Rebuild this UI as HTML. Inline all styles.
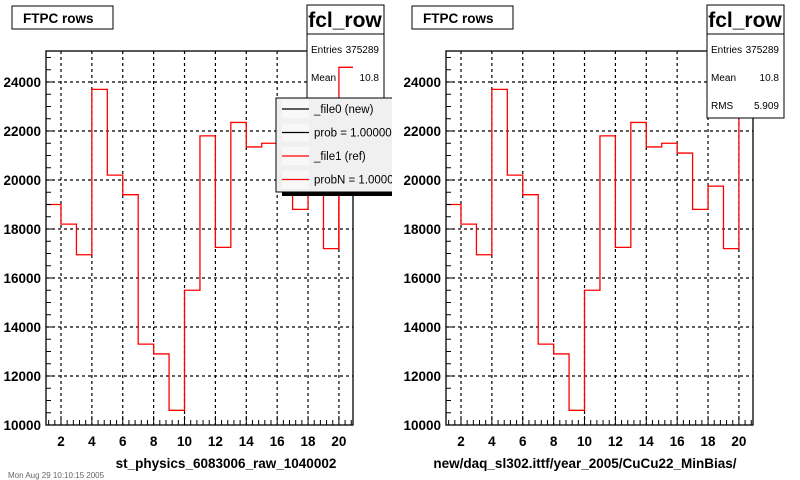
<!DOCTYPE html>
<html><head><meta charset="utf-8">
<style>
body{margin:0;background:#fff;}
svg{display:block;font-family:"Liberation Sans",sans-serif;}
</style></head>
<body>
<svg id="c" width="800" height="480" viewBox="0 0 800 480"></svg>
<script>
const bins = [1,2,3,4,5,6,7,8,9,10,11,12,13,14,15,16,17,18,19,20];
const counts = [19000,18200,16950,23700,20200,19400,13300,12900,10600,15500,21800,17250,22350,21350,21500,21100,18800,19750,17200,24600];
const yTicks = [10000,12000,14000,16000,18000,20000,22000,24000];
const xTicks = [2,4,6,8,10,12,14,16,18,20];
const xTitles = ["st_physics_6083006_raw_1040002","new/daq_sl302.ittf/year_2005/CuCu22_MinBias/"];

const NS="http://www.w3.org/2000/svg";
const svg=document.getElementById('c');
function mk(tag,at,parent){const e=document.createElementNS(NS,tag);for(const k in at)e.setAttribute(k,at[k]);(parent||svg).appendChild(e);return e;}
const L=46,R=353,T=51,B=425;
function X(v){return 61+(v-2)*15.44;}
function Y(v){return 425-(v-10000)*343/14000;}

const defs=mk('defs',{});
const cp=mk('clipPath',{id:'lgclip'},defs);
mk('rect',{x:0,y:0,width:392,height:480},cp);

[0,400].forEach((ox,pi)=>{
  const g=mk('g',{transform:`translate(${ox},0)`});
  
  
  xTicks.forEach(v=>{const l=mk('line',{x1:X(v),x2:X(v),y1:T,y2:B,stroke:'#000','stroke-dasharray':'3,3','stroke-width':1.2},g);
    });
  yTicks.forEach(v=>{if(v===10000)return;const l=mk('line',{x1:L,x2:R,y1:Y(v),y2:Y(v),stroke:'#000','stroke-dasharray':'3,3','stroke-width':1.2},g);
    });
  let d='';
  bins.forEach((b,i)=>{const x0=Math.max(X(b),L),x1=Math.min(X(b+1),R),y=Y(counts[i]);
    d+=(i===0?`M${x0},${y}`:`L${x0},${y}`)+`L${x1},${y}`;});
  const h=mk('path',{d:d,fill:'none',stroke:'#f00','stroke-width':1.3},g);
  
  const fr=mk('rect',{x:L,y:T,width:R-L,height:B-T,fill:'none',stroke:'#000','stroke-width':1.3},g);
  
  for(let v=10000;v<=25000;v+=500){const major=v%2000===0;
    mk('line',{x1:L,x2:L+(major?9:5),y1:Y(v),y2:Y(v),stroke:'#000'},g);}
  yTicks.forEach(v=>{const t=mk('text',{x:L-5,y:Y(v)+5,'text-anchor':'end','font-size':13.5,'font-weight':'bold'},g);t.textContent=v;
    });
  for(let v=1.2;v<=21;v+=0.4){const major=Math.abs(v/2-Math.round(v/2))<0.01;
    if(X(v)>R)break;mk('line',{x1:X(v),x2:X(v),y1:B,y2:B-(major?9:5),stroke:'#000'},g);}
  xTicks.forEach(v=>{const t=mk('text',{x:X(v),y:446,'text-anchor':'middle','font-size':13.5,'font-weight':'bold'},g);t.textContent=v;
    });
  const xt=mk('text',{x:pi===0?226:185,y:468,'text-anchor':'middle','font-size':13.5,'font-weight':'bold'},g);xt.textContent=xTitles[pi];
  
  mk('rect',{x:12,y:6,width:101,height:23,fill:'#fff',stroke:'#000'},g);
  const tt=mk('text',{x:23,y:23,'font-size':13.5,'font-weight':'bold'},g);tt.textContent='FTPC rows';
  
  const sb=mk('g',{},g);
  mk('rect',{x:307,y:5,width:77,height:113,fill:'#fff',stroke:'#000'},sb);
  mk('line',{x1:307,x2:384,y1:34,y2:34,stroke:'#000'},sb);
  let s=mk('text',{x:345,y:27,'text-anchor':'middle','font-size':21,'font-weight':'bold'},sb);s.textContent='fcl_row';
  s=mk('text',{x:311,y:53,'font-size':10},sb);s.textContent='Entries';
  s=mk('text',{x:379,y:53,'font-size':10,'text-anchor':'end'},sb);s.textContent='375289';
  s=mk('text',{x:311,y:81,'font-size':10},sb);s.textContent='Mean';
  s=mk('text',{x:379,y:81,'font-size':10,'text-anchor':'end'},sb);s.textContent='10.8';
  s=mk('text',{x:311,y:109,'font-size':10},sb);s.textContent='RMS';
  s=mk('text',{x:379,y:109,'font-size':10,'text-anchor':'end'},sb);s.textContent='5.909';
  if(pi===0){
    const i=19;mk('path',{d:`M${X(20)},${Y(counts[18])}L${X(20)},${Y(counts[i])}L${R},${Y(counts[i])}`,fill:'none',stroke:'#f00','stroke-width':1.3},g);
    const lg=mk('g',{'clip-path':'url(#lgclip)'},g);
    mk('rect',{x:282,y:98,width:118,height:98,fill:'#000'},lg);
    mk('rect',{x:276,y:98,width:124,height:94,fill:'#f0f0f0',stroke:'#000'},lg);
    const items=[['_file0 (new)','#000'],['prob = 1.000000','#000'],['_file1 (ref)','#f00'],['probN = 1.000000','#f00']];
    items.forEach((it,k)=>{const y=109+k*23.5;
      mk('rect',{x:282,y:y-9,width:27,height:18,fill:'#f8f8f8'},lg);
      mk('line',{x1:282,x2:309,y1:y,y2:y,stroke:it[1],'stroke-width':1.3},lg);
      const t=mk('text',{x:314,y:y+4,'font-size':11.5},lg);t.textContent=it[0];
      });
  }
});
const ft=mk('text',{x:8,y:478,'font-size':8,fill:'#666'});ft.textContent='Mon Aug 29 10:10:15 2005';

</script>
</body></html>
